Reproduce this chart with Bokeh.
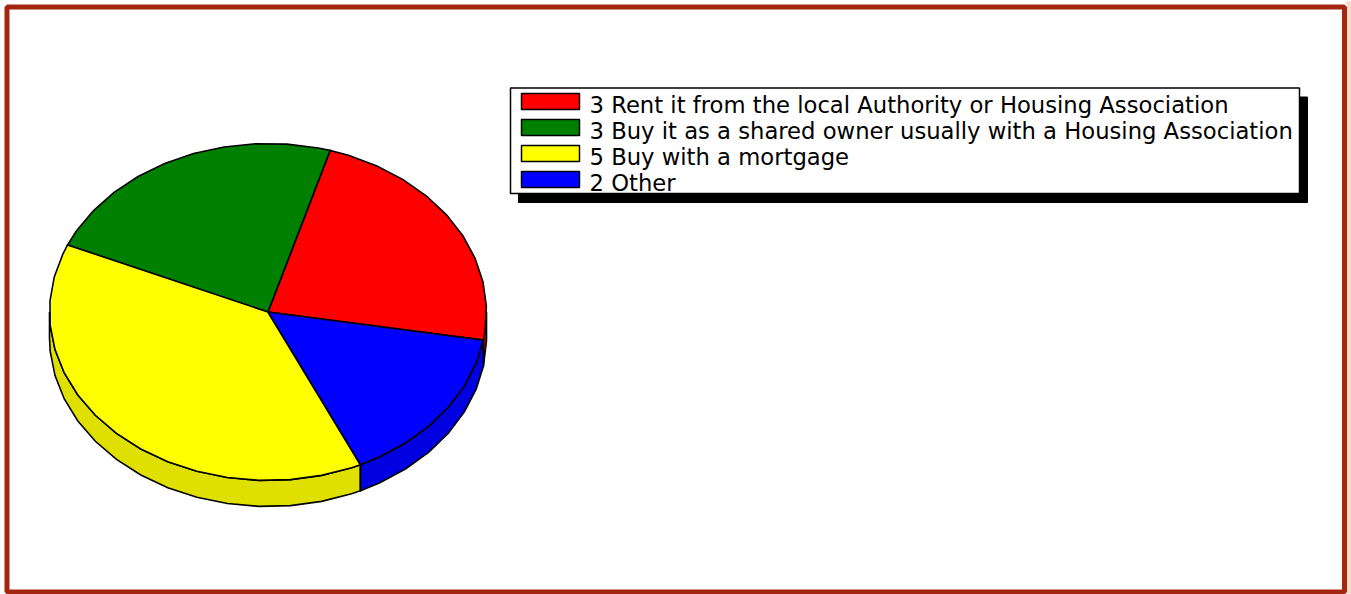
import numpy as np
from bokeh.plotting import figure
from bokeh.models import Range1d
from bokeh.core.properties import value
from bokeh.embed import file_html
from bokeh.resources import INLINE

# ---- data ----
labels = ["Rent it from the local Authority or Housing Association",
          "Buy it as a shared owner usually with a Housing Association",
          "Buy with a mortgage",
          "Other"]
values = [3, 3, 5, 2]
colors = ["#ff0000", "#008000", "#ffff00", "#0000ff"]
side_colors = ["#e00000", "#007000", "#e0e000", "#0000e0"]

# ---- geometry (pixel space) ----
W, H = 1351, 594
cx, cy = 267.5, 311.5
rx, ry = 218.5, 168.5
depth = 26
start = -9.6  # degrees, counter-clockwise

p = figure(width=W, height=H, x_range=Range1d(0, W), y_range=Range1d(H, 0),
           output_backend="svg", toolbar_location=None, min_border=0,
           background_fill_color="white", border_fill_color="white")
p.axis.visible = False
p.grid.visible = False
p.outline_line_color = None


def arc_angles(a0, a1, step=8.3, off=2.0):
    k0 = int(np.floor((a0 - off) / step)) + 1
    pts = [a0]
    a = off + k0 * step
    while a < a1 - 1e-6:
        if a - pts[-1] > 1.0:
            pts.append(a)
        a += step
    pts.append(a1)
    return np.array(pts)


def pt(a, dy=0.0):
    r = np.radians(a)
    return cx + rx * np.cos(r), cy - ry * np.sin(r) + dy


total = float(sum(values))
bounds = []
a = start
for v in values:
    b = a + v / total * 360.0
    bounds.append((a, b))
    a = b

# side walls (front: angles between 180 and 360)
sx, sy, sc = [], [], []
for (a0, a1), col in zip(bounds, side_colors):
    for shift in (-360.0, 0.0, 360.0):
        lo = max(a0 + shift, 180.0)
        hi = min(a1 + shift, 360.0)
        if hi - lo > 0.01:
            ang = arc_angles(lo, hi)
            tx, ty = pt(ang)
            bx, by = pt(ang[::-1], depth)
            sx.append(list(tx) + list(bx))
            sy.append(list(ty) + list(by))
            sc.append(col)
p.patches(sx, sy, fill_color=sc, line_color="black", line_width=1.6,
          line_join="miter")

# top faces
fx, fy = [], []
for (a0, a1) in bounds:
    ang = arc_angles(a0, a1)
    tx, ty = pt(ang)
    fx.append([cx] + list(tx))
    fy.append([cy] + list(ty))
p.patches(fx, fy, fill_color=colors, line_color="black", line_width=1.6,
          line_join="miter")

# ---- legend ----
lx0, lx1, ly0, ly1 = 510, 1299, 87.5, 193
p.quad(left=lx0 + 8, right=lx1 + 8, top=ly0 + 9, bottom=ly1 + 9,
       fill_color="black", line_color="black")
p.quad(left=lx0, right=lx1, top=ly0, bottom=ly1, fill_color="white",
       line_color="black", line_width=1.5)
n = len(values)
row_y = [101 + 26 * i for i in range(n)]
p.quad(left=[521] * n, right=[579] * n, top=[y - 8 for y in row_y],
       bottom=[y + 8 for y in row_y], fill_color=colors, line_color="black",
       line_width=1.5)
texts = [f"{v} {l}" for v, l in zip(values, labels)]
p.text(x=[589] * n, y=[y + 3 for y in row_y], text=texts,
       text_font=value("DejaVu Sans"), text_font_size="22.7px",
       text_baseline="middle", text_align="left", text_color="black")

# ---- frame ----
p.quad(left=1346, right=1351, top=0, bottom=594, fill_color="#f6dcce",
       line_color=None)
p.quad(left=6.5, right=1344, top=6.5, bottom=591.5, fill_color=None,
       line_color="#a52610", line_width=5)

open("out.html", "w").write(file_html(p, INLINE))
